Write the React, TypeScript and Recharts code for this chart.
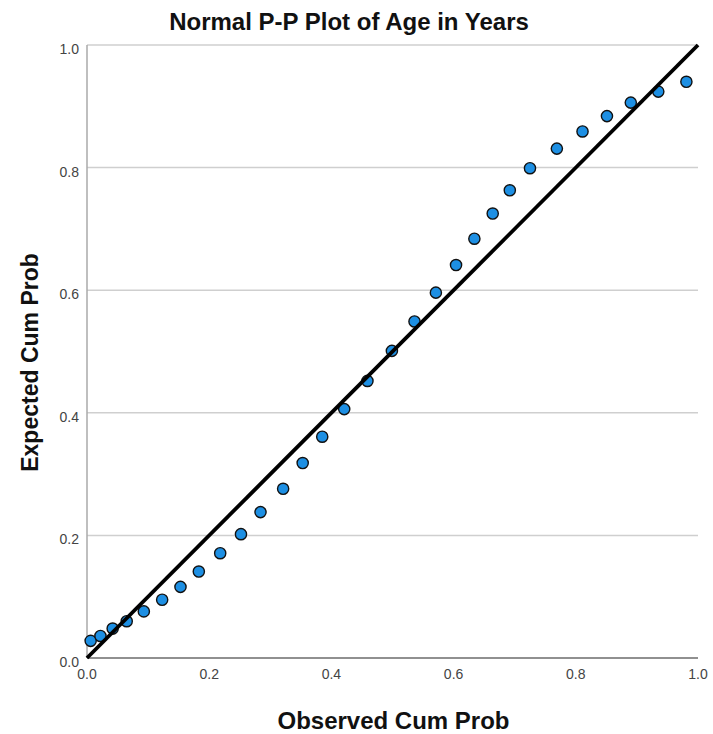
import { CartesianGrid, Scatter, ScatterChart, XAxis, YAxis } from "recharts";

// observed cumulative probability (x) vs expected cumulative probability (y)
const observed = [
  0.006, 0.022, 0.042, 0.065, 0.093, 0.123, 0.153, 0.183, 0.218, 0.252, 0.284, 0.321, 0.353, 0.385, 0.421,
  0.459, 0.499, 0.536, 0.571, 0.604, 0.634, 0.664, 0.692, 0.725, 0.769, 0.811, 0.851, 0.89, 0.935, 0.981,
];
const expected = [
  0.028, 0.036, 0.048, 0.06, 0.076, 0.095, 0.116, 0.141, 0.171, 0.202, 0.238, 0.276, 0.318, 0.361, 0.406,
  0.452, 0.501, 0.549, 0.596, 0.641, 0.684, 0.725, 0.763, 0.799, 0.831, 0.859, 0.884, 0.906, 0.924, 0.94,
];
const diagonal = [
  { x: 0, y: 0 },
  { x: 1, y: 1 },
];
const ticks = [0, 0.2, 0.4, 0.6, 0.8, 1.0];

const points = observed.map((x, i) => ({ x, y: expected[i] }));

const font = "Arial, 'Liberation Sans', sans-serif";

const Dot = (props: any) => {
  const { cx, cy } = props;
  return <circle cx={cx} cy={cy} r={5.6} fill='#1d8fe3' stroke='#111' strokeWidth={1.4} />;
};

const XTitle = (props: any) => {
  const { viewBox } = props;
  return (
    <text x={viewBox.x + viewBox.width / 2 + 1} y={729} textAnchor='middle' fontSize={24} fontWeight='bold' fill='#111' fontFamily={font}>
      Observed Cum Prob
    </text>
  );
};

const YTitle = (props: any) => {
  const { viewBox } = props;
  const cy = viewBox.y + viewBox.height / 2 + 11;
  return (
    <text x={38} y={cy} transform={`rotate(-90 38 ${cy})`} textAnchor='middle' fontSize={23} fontWeight='bold' fill='#111' fontFamily={font}>
      Expected Cum Prob
    </text>
  );
};

export default function App() {
  return (
    <div style={{ position: "absolute", left: 0, top: 0, width: 713, height: 734, background: "#fff", fontFamily: font }}>
      <div
        style={{
          position: "absolute",
          left: 0,
          top: 8,
          width: 698,
          textAlign: "center",
          fontSize: 24,
          fontWeight: "bold",
          color: "#111",
          lineHeight: "28px",
        }}
      >
        Normal P-P Plot of Age in Years
      </div>
      <ScatterChart width={713} height={734} margin={{ top: 45, right: 15, bottom: 0, left: 0 }}>
        <CartesianGrid vertical={false} stroke='#cfcfcf' strokeWidth={1.5} />
        <XAxis
          type='number'
          dataKey='x'
          domain={[0, 1]}
          ticks={ticks}
          tickFormatter={(v: number) => v.toFixed(1)}
          tick={{ fontSize: 14, fill: "#444", fontFamily: font }}
          tickLine={false}
          tickMargin={5}
          axisLine={{ stroke: "#777", strokeWidth: 1.5 }}
          height={76}
          label={<XTitle />}
        />
        <YAxis
          type='number'
          dataKey='y'
          domain={[0, 1]}
          ticks={ticks}
          tickFormatter={(v: number) => v.toFixed(1)}
          tick={{ fontSize: 14, fill: "#444", fontFamily: font, dy: 4 }}
          tickLine={false}
          axisLine={{ stroke: "#aaa", strokeWidth: 1.5 }}
          width={87}
          label={<YTitle />}
        />
        <Scatter data={points} shape={<Dot />} isAnimationActive={false} />
        <Scatter
          data={diagonal}
          line={{ stroke: "#000", strokeWidth: 3.8 }}
          shape={() => <g />}
          isAnimationActive={false}
        />
      </ScatterChart>
    </div>
  );
}
